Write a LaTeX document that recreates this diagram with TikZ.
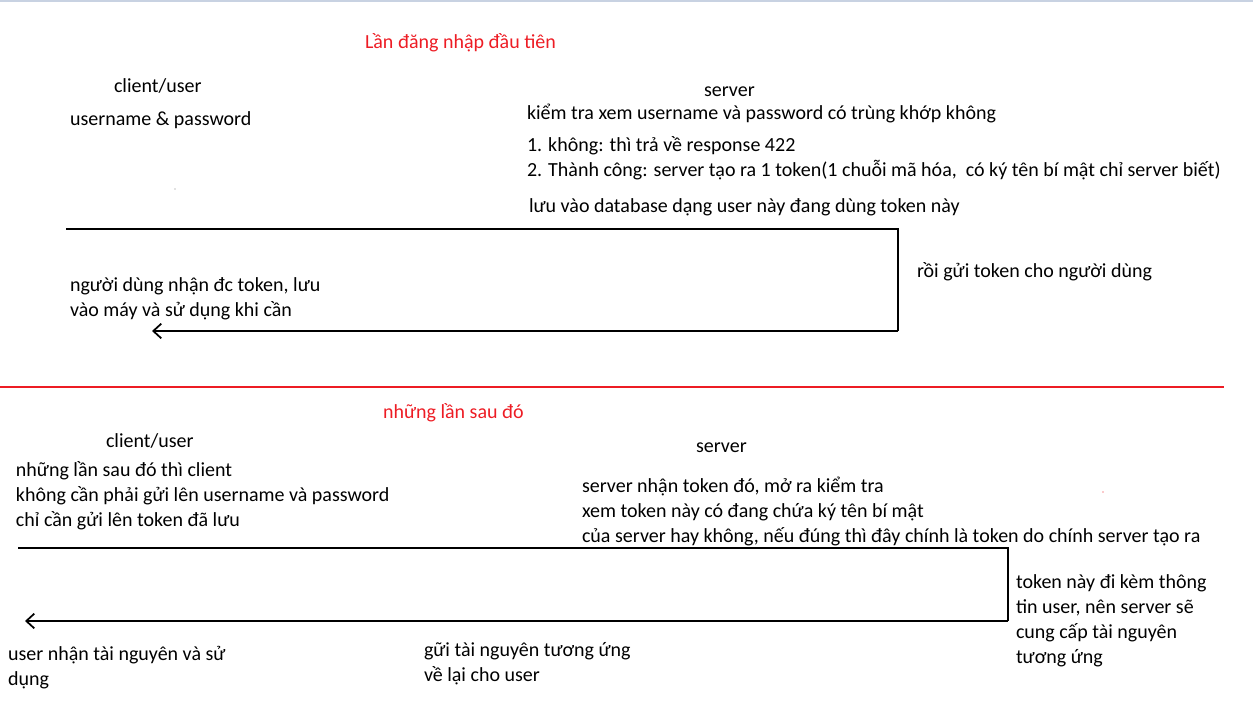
\documentclass[tikz,border=0pt]{standalone}
\usepackage{fontspec}
\setmainfont{Carlito}
\usetikzlibrary{arrows.meta}
\definecolor{pred}{RGB}{237,28,36}
\definecolor{topline}{RGB}{200,210,226}
\tikzset{
  txt/.style={anchor=base west, inner sep=0pt, outer sep=0pt, font=\fontsize{15}{18.75}\selectfont, align=left},
  ttl/.style={txt, text=pred},
  flow/.style={line width=1.4pt, black},
  tip/.style={-{Straight Barb[length=6pt,width=11pt,line width=1.3pt]}},
}
\begin{document}
\begin{tikzpicture}[x=0.75pt,y=-0.75pt]
\useasboundingbox (0,0) rectangle (1253,726);
\draw[topline, line width=1.5pt] (0,1) -- (1253,1);

% ---------- part 1 ----------
\node[ttl] (t1) at (365,48) {Lần đăng nhập đầu tiên};
\node[txt] (c1) at (114,92) {client/user};
\node[txt] (up) at (70,125) {username \& password};
\node[txt] (s1) at (704,96) {server};
\node[txt] (k1) at (527,119) {kiểm tra xem username và password có trùng khớp không};
\node[txt] (k2) at (527,151) {1. không: thì trả về response 422};
\node[txt] (k3) at (527,176) {2. Thành công: server tạo ra 1 token(1 chuỗi mã hóa,\ \ có ký tên bí mật chỉ server biết)};
\node[txt] (k4) at (529,212) {lưu vào database dạng user này đang dùng token này};
\fill[gray] (175,189) circle (0.6);

\coordinate (a1) at (66,229);
\coordinate (a2) at (898,229);
\coordinate (a3) at (898,331);
\coordinate (a4) at (152,331);
\draw[flow] (a1) -- (a2) -- (a3);
\draw[flow, tip] (a3) -- (a4);
\node[txt] (r1) at (917,277) {rồi gửi token cho người dùng};
% base anchor of a multi-line node is the baseline of its last line
\node[txt] (n1) at (70,316) {người dùng nhận đc token, lưu\\vào máy và sử dụng khi cần};

% ---------- separator ----------
\draw[pred, line width=2pt] (0,387) -- (1224,387);

% ---------- part 2 ----------
\node[ttl] (t2) at (383,418) {những lần sau đó};
\node[txt] (c2) at (106,447) {client/user};
\node[txt] (s2) at (696,452) {server};
\node[txt] (m1) at (16,526) {những lần sau đó thì client\\không cần phải gửi lên username và password\\chỉ cần gửi lên token đã lưu};
\node[txt] (m2) at (582,542) {server nhận token đó, mở ra kiểm tra\\xem token này có đang chứa ký tên bí mật\\của server hay không, nếu đúng thì đây chính là token do chính server tạo ra};
\fill[pred] (1103,492) circle (0.7);

\coordinate (b1) at (18,548);
\coordinate (b2) at (1008,548);
\coordinate (b3) at (1008,621);
\coordinate (b4) at (25,621);
\draw[flow] (b1) -- (b2) -- (b3);
\draw[flow, tip] (b3) -- (b4);
\node[txt] (m3) at (1016,663) {token này đi kèm thông\\tin user, nên server sẽ\\cung cấp tài nguyên\\tương ứng};
\node[txt] (m4) at (424,681) {gữi tài nguyên tương ứng\\về lại cho user};
\node[txt] (m5) at (8,685) {user nhận tài nguyên và sử\\dụng};
\end{tikzpicture}
\end{document}
